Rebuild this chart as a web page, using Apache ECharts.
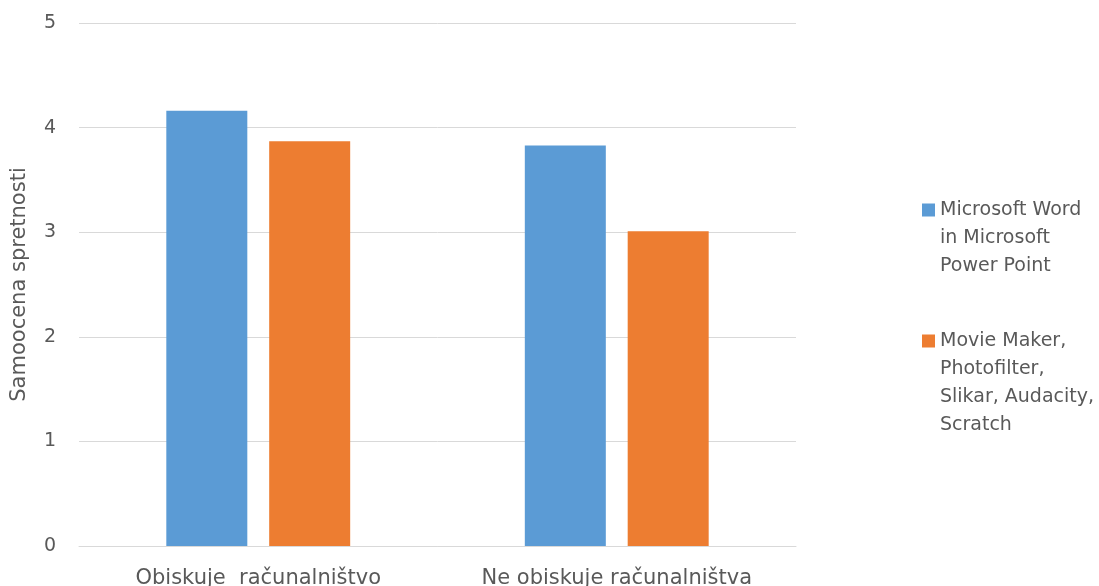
<!DOCTYPE html>
<html>
<head>
<meta charset="utf-8">
<script src="https://cdn.jsdelivr.net/npm/echarts@6/dist/echarts.min.js"></script>
<style>
  html, body { margin: 0; padding: 0; background: #ffffff; }
  #chart { width: 1099px; height: 586px; }
</style>
</head>
<body>
<div id="chart"></div>
<script>
// Categories on the x axis
const categories = ['Obiskuje  računalništvo', 'Ne obiskuje računalništva'];
// Series names (legend text, wrapped over several lines)
const seriesNames = [
  'Microsoft Word\nin Microsoft\nPower Point',
  'Movie Maker,\nPhotofilter,\nSlikar, Audacity,\nScratch'
];
// Self-rated skill per category
const officeValues = [4.16, 3.83];
const mediaValues = [3.87, 3.01];
// Value axis range
const yMin = 0;
const yMax = 5;
const yStep = 1;
const yAxisTitle = 'Samoocena spretnosti';

const FONT = 'DejaVu Sans';
const TEXT_COLOR = '#595959';
const GRID_COLOR = '#d9d9d9';
const LINE_H = 28;

// The legend centres its text block on the colour square; leading empty
// lines move the first line of a wrapped name level with the square.
function legendLabel(name) {
  const lines = name.split('\n').length;
  return '\n'.repeat(lines - 1) + name;
}

function legendAt(name, top) {
  return {
    left: 922,
    top: top,
    padding: 0,
    orient: 'vertical',
    itemWidth: 13,
    itemHeight: 13,
    icon: 'rect',
    selectedMode: false,
    data: [name],
    formatter: legendLabel,
    textStyle: {
      fontFamily: FONT,
      fontSize: 19,
      color: TEXT_COLOR,
      lineHeight: LINE_H
    }
  };
}

const chart = echarts.init(document.getElementById('chart'), null, { renderer: 'canvas' });

chart.setOption({
  animation: false,
  backgroundColor: '#ffffff',
  textStyle: { fontFamily: FONT },
  grid: {
    left: 79, right: 303, top: 23, bottom: 40,
    containLabel: false,
    outerBoundsMode: 'none'
  },
  legend: [
    legendAt(seriesNames[0], 140),
    legendAt(seriesNames[1], 243)
  ],
  xAxis: {
    type: 'category',
    data: categories,
    axisLine: { show: true, lineStyle: { color: GRID_COLOR, width: 1 } },
    axisTick: { show: false },
    axisLabel: {
      color: TEXT_COLOR,
      fontFamily: FONT,
      fontSize: 21,
      margin: 22
    }
  },
  yAxis: {
    type: 'value',
    min: yMin,
    max: yMax,
    interval: yStep,
    name: yAxisTitle,
    nameLocation: 'middle',
    nameGap: 49,
    nameRotate: 90,
    nameTextStyle: {
      color: TEXT_COLOR,
      fontFamily: FONT,
      fontSize: 21
    },
    axisLine: { show: false },
    axisTick: { show: false },
    splitLine: { show: true, lineStyle: { color: GRID_COLOR, width: 1 } },
    axisLabel: {
      color: TEXT_COLOR,
      fontFamily: FONT,
      fontSize: 19,
      margin: 23
    }
  },
  series: [
    {
      name: seriesNames[0],
      type: 'bar',
      data: officeValues,
      barWidth: 81,
      barGap: '27%',
      itemStyle: { color: '#5B9BD5' }
    },
    {
      name: seriesNames[1],
      type: 'bar',
      data: mediaValues,
      barWidth: 81,
      barGap: '27%',
      itemStyle: { color: '#ED7D31' }
    }
  ]
});
</script>
</body>
</html>
